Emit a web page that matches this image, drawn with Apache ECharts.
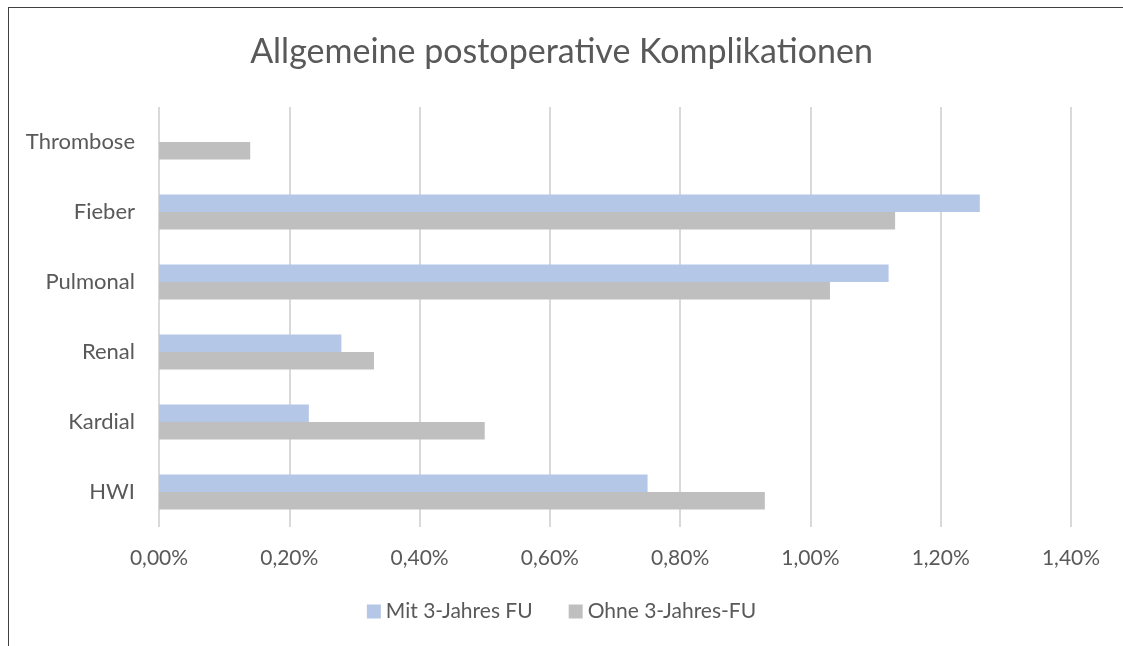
<!DOCTYPE html>
<html>
<head>
<meta charset="utf-8">
<script src="https://cdn.jsdelivr.net/npm/echarts@6/dist/echarts.min.js"></script>
<style>
    html, body { margin: 0; padding: 0; background: #fff; }
    #frame {
        position: absolute; left: 8px; top: 7px; width: 1115px; height: 639px;
        border-left: 1px solid #404040; border-top: 1px solid #404040;
    }
    #chart { position: absolute; left: 0; top: 0; width: 1123px; height: 646px; }
</style>
</head>
<body>
<div id="frame"></div>
<div id="chart"></div>
<script>
    const categories = ['HWI', 'Kardial', 'Renal', 'Pulmonal', 'Fieber', 'Thrombose']
    const mitFU = [0.75, 0.23, 0.28, 1.12, 1.26, null]
    const ohneFU = [0.93, 0.50, 0.33, 1.03, 1.13, 0.14]
    const seriesNames = ['Mit 3-Jahres FU', 'Ohne 3-Jahres-FU']

    const font = 'Lato, "Open Sans", sans-serif'
    let chart = echarts.init(document.getElementById('chart'))
    chart.setOption({
        animation: false,
        title: {
            text: 'Allgemeine postoperative Komplikationen',
            left: 'center',
            top: 30,
            textStyle: { color: '#595959', fontSize: 34, fontWeight: 'normal', fontFamily: font }
        },
        legend: {
            bottom: 19,
            left: 'center',
            itemWidth: 14,
            itemHeight: 14,
            itemGap: 36,
            itemTextGap: 6,
            icon: 'rect',
            textStyle: { color: '#595959', fontSize: 21, fontFamily: font },
            data: seriesNames
        },
        grid: { left: 159, right: 52, top: 107, bottom: 119, containLabel: false },
        xAxis: {
            type: 'value',
            min: 0,
            max: 1.4,
            interval: 0.2,
            axisLine: { show: false },
            axisTick: { show: false },
            splitLine: { lineStyle: { color: '#d9d9d9', width: 2 } },
            axisLabel: {
                margin: 21,
                color: '#595959', fontSize: 21, fontFamily: font,
                formatter: v => v.toFixed(2).replace('.', ',') + '%'
            }
        },
        yAxis: {
            type: 'category',
            data: categories,
            axisLine: { show: false },
            axisTick: { show: false },
            axisLabel: { margin: 24, color: '#595959', fontSize: 22, fontFamily: font }
        },
        series: [
            {
                name: seriesNames[0], type: 'bar', data: mitFU,
                barGap: '0%', barCategoryGap: '50%',
                itemStyle: { color: '#b4c7e7' }
            },
            {
                name: seriesNames[1], type: 'bar', data: ohneFU,
                barGap: '0%', barCategoryGap: '50%',
                itemStyle: { color: '#bfbfbf' }
            }
        ]
    })
</script>
</body>
</html>
